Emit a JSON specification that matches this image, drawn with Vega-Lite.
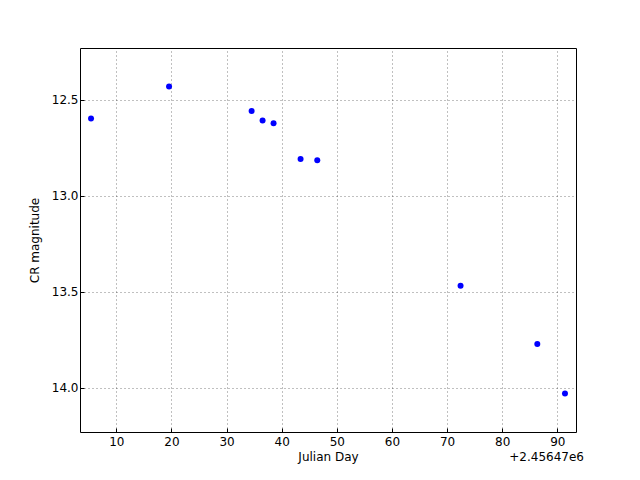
{
  "$schema": "https://vega.github.io/schema/vega-lite/v6.json",
  "width": 496,
  "height": 384,
  "autosize": {"type": "none"},
  "padding": {"left": 80, "top": 48, "right": 64, "bottom": 48},
  "background": "white",
  "title": {"text": "+2.45647e6", "orient": "bottom", "anchor": "end", "offset": -10, "dx": 8, "font": "DejaVu Sans", "fontSize": 12, "fontWeight": "normal", "color": "black"},
  "config": {
    "view": {"stroke": "black", "strokeWidth": 1},
    "axis": {
      "labelFont": "DejaVu Sans", "labelFontSize": 12, "labelColor": "black",
      "titleFont": "DejaVu Sans", "titleFontSize": 12, "titleFontWeight": "normal", "titleColor": "black",
      "domain": false, "tickColor": "black", "tickSize": -4, "tickWidth": 1,
      "grid": true, "gridColor": "black", "gridWidth": 0.5, "gridDash": [1, 3], "gridOpacity": 1
    }
  },
  "data": {"values": [
    {"jd": 2456475.41, "mag": 12.599},
    {"jd": 2456489.56, "mag": 12.432},
    {"jd": 2456504.54, "mag": 12.559},
    {"jd": 2456506.53, "mag": 12.609},
    {"jd": 2456508.52, "mag": 12.623},
    {"jd": 2456513.42, "mag": 12.809},
    {"jd": 2456516.45, "mag": 12.816},
    {"jd": 2456542.44, "mag": 13.469},
    {"jd": 2456556.36, "mag": 13.771},
    {"jd": 2456561.38, "mag": 14.029}
  ]},
  "mark": {"type": "point", "filled": true, "color": "#0000ff", "opacity": 1, "size": 36},
  "encoding": {
    "x": {
      "field": "jd", "type": "quantitative",
      "scale": {"domain": [2456473.41, 2456563.38], "zero": false, "nice": false},
      "axis": {"title": "Julian Day", "values": [2456480, 2456490, 2456500, 2456510, 2456520, 2456530, 2456540, 2456550, 2456560],
               "labelExpr": "format(datum.value - 2456470, 'd')", "labelPadding": 8, "titlePadding": 4}
    },
    "y": {
      "field": "mag", "type": "quantitative",
      "scale": {"domain": [12.232, 14.229], "reverse": true, "zero": false, "nice": false},
      "axis": {"title": "CR magnitude", "values": [12.5, 13.0, 13.5, 14.0], "format": ".1f", "labelPadding": 6, "titlePadding": 10}
    }
  }
}
